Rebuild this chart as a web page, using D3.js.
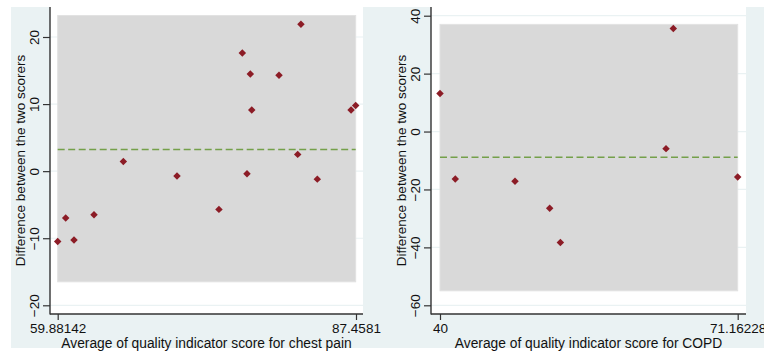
<!DOCTYPE html>
<html>
<head>
<meta charset="utf-8">
<script src="https://cdn.jsdelivr.net/npm/d3@7"></script>
<style>
  body { margin:0; background:#fff; }
  svg text { font-family:"Liberation Sans", Arial, sans-serif; fill:#111; }
</style>
</head>
<body>
<div id="chart"></div>
<script>
/* values */
var chestAvg  = [59.88, 60.62, 61.39, 63.24, 65.95, 70.91, 74.79, 76.95, 77.38, 77.69, 77.82, 80.34, 82.07, 82.37, 83.88, 87.0, 87.43];
var chestDiff = [-10.5, -7.0, -10.25, -6.5, 1.45, -0.74, -5.7, 17.6, -0.39, 14.5, 9.1, 14.3, 2.5, 21.9, -1.19, 9.1, 9.8];
var chestMean = 3.22, chestLow = -16.5, chestHigh = 23.2;
var chestXTicks = [59.88142, 87.4581];
var chestYTicks = [-20, -10, 0, 10, 20];

var copdAvg  = [40, 41.6, 47.85, 51.48, 52.6, 63.66, 64.42, 71.16];
var copdDiff = [13.1, -16.4, -17.2, -26.5, -38.3, -5.9, 35.6, -15.7];
var copdMean = -8.9, copdLow = -55.0, copdHigh = 37.0;
var copdXTicks = [40, 71.16228];
var copdYTicks = [-60, -40, -20, 0, 20, 40];

var svg = d3.select('#chart').append('svg')
    .attr('width', 764).attr('height', 353);

var bg = '#eaf2f3';

// graph regions first so text of the left panel can run over the right one
svg.append('rect').attr('x', 11).attr('y', 7).attr('width', 352).attr('height', 341).attr('fill', bg);
svg.append('rect').attr('x', 363).attr('y', 7).attr('width', 401).attr('height', 341).attr('fill', bg);

function panel(o){
    var g = svg.append('g').attr('transform', 'translate(' + o.px + ',7)');
    g.append('rect').attr('width', o.pw).attr('height', 307).attr('fill', '#fff');

    var x = d3.scaleLinear().domain([o.xTicks[0], o.xTicks[1]]).range(o.xr);
    var y = d3.scaleLinear().domain(o.yd).range(o.yr);

    // grid lines
    g.selectAll('.grid').data(o.yTicks).enter().append('line')
        .attr('x1', 0).attr('x2', o.pw)
        .attr('y1', function(d){return y(d)}).attr('y2', function(d){return y(d)})
        .attr('stroke', bg).attr('stroke-width', 1.2);

    // limits of agreement band
    g.append('rect')
        .attr('x', x(d3.min(o.avg))).attr('width', x(d3.max(o.avg)) - x(d3.min(o.avg)))
        .attr('y', y(o.high)).attr('height', y(o.low) - y(o.high))
        .attr('fill', '#d9d9d9').attr('stroke', '#e2e2e2').attr('stroke-width', 1);

    // mean difference
    g.append('line')
        .attr('x1', x(d3.min(o.avg))).attr('x2', x(d3.max(o.avg)))
        .attr('y1', y(o.mean)).attr('y2', y(o.mean))
        .attr('stroke', '#74a04a').attr('stroke-width', 1.6)
        .attr('stroke-dasharray', '7,3.5');

    // points
    var sym = d3.symbol().type(d3.symbolSquare).size(28);
    g.selectAll('.pt').data(o.avg).enter().append('path')
        .attr('d', sym)
        .attr('transform', function(d, i){ return 'translate(' + x(d) + ',' + y(o.diff[i]) + ') rotate(45)'; })
        .attr('fill', '#8c1c26');

    // y axis
    var ya = g.append('g').call(d3.axisLeft(y).tickValues(o.yTicks).tickSize(7).tickSizeOuter(0));
    ya.select('.domain').remove();
    ya.selectAll('.tick line').attr('stroke', '#333').attr('stroke-width', 1.2);
    ya.selectAll('.tick text')
        .attr('x', null).attr('dy', null)
        .attr('text-anchor', 'middle')
        .attr('transform', 'translate(-11,0) rotate(-90)')
        .style('font-size', '13.5px');

    // x axis
    var xa = g.append('g').attr('transform', 'translate(0,307)')
        .call(d3.axisBottom(x).tickValues(o.xTicks).tickSize(6).tickSizeOuter(0).tickFormat(function(d){return String(d)}));
    xa.select('.domain').remove();
    xa.selectAll('.tick line').attr('stroke', '#333').attr('stroke-width', 1.2);
    xa.selectAll('.tick text').attr('y', 9).attr('dy', '0.71em').style('font-size', '13.5px');

    g.append('line').attr('x1', 0).attr('x2', 0).attr('y1', 0).attr('y2', 307.5)
        .attr('stroke', '#333').attr('stroke-width', 1.4);
    g.append('line').attr('x1', 0).attr('x2', o.pw).attr('y1', 307).attr('y2', 307)
        .attr('stroke', '#333').attr('stroke-width', 1.4);

    // titles
    g.append('text').attr('text-anchor', 'middle')
        .attr('transform', 'translate(-25,' + 153.5 + ') rotate(-90)')
        .style('font-size', '13.5px')
        .text('Difference between the two scorers');
    g.append('text').attr('text-anchor', 'middle')
        .attr('x', o.pw / 2).attr('y', 341)
        .style('font-size', '13.8px')
        .text(o.xTitle);
}

panel({px:50, pw:313,
       xr:[7.7, 306], yd:[-20, 20], yr:[298.3, 30],
       avg:chestAvg, diff:chestDiff, mean:chestMean, low:chestLow, high:chestHigh,
       xTicks:chestXTicks, yTicks:chestYTicks,
       xTitle:'Average of quality indicator score for chest pain'});

panel({px:431, pw:315,
       xr:[9, 306.7], yd:[-60, 40], yr:[298.3, 8.7],
       avg:copdAvg, diff:copdDiff, mean:copdMean, low:copdLow, high:copdHigh,
       xTicks:copdXTicks, yTicks:copdYTicks,
       xTitle:'Average of quality indicator score for COPD'});
</script>
</body>
</html>
